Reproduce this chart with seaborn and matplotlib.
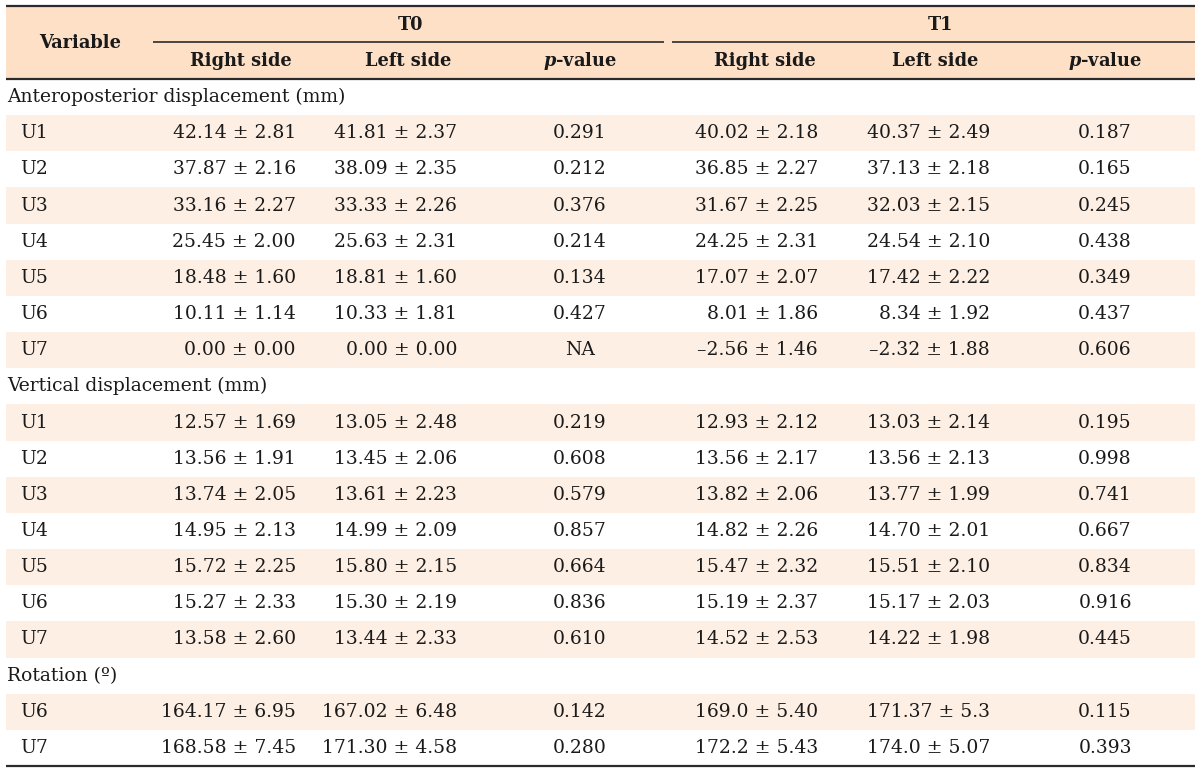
import matplotlib
matplotlib.use('Agg')
import matplotlib.pyplot as plt
import seaborn as sns

# TABLE DATA
sections = ['Anteroposterior displacement (mm)', 'Vertical displacement (mm)', 'Rotation (º)']

ap_vars = ['U1', 'U2', 'U3', 'U4', 'U5', 'U6', 'U7']
ap_t0_right = ['42.14 ± 2.81', '37.87 ± 2.16', '33.16 ± 2.27', '25.45 ± 2.00', '18.48 ± 1.60', '10.11 ± 1.14', '0.00 ± 0.00']
ap_t0_left = ['41.81 ± 2.37', '38.09 ± 2.35', '33.33 ± 2.26', '25.63 ± 2.31', '18.81 ± 1.60', '10.33 ± 1.81', '0.00 ± 0.00']
ap_t0_p = ['0.291', '0.212', '0.376', '0.214', '0.134', '0.427', 'NA']
ap_t1_right = ['40.02 ± 2.18', '36.85 ± 2.27', '31.67 ± 2.25', '24.25 ± 2.31', '17.07 ± 2.07', '8.01 ± 1.86', '–2.56 ± 1.46']
ap_t1_left = ['40.37 ± 2.49', '37.13 ± 2.18', '32.03 ± 2.15', '24.54 ± 2.10', '17.42 ± 2.22', '8.34 ± 1.92', '–2.32 ± 1.88']
ap_t1_p = ['0.187', '0.165', '0.245', '0.438', '0.349', '0.437', '0.606']

vt_vars = ['U1', 'U2', 'U3', 'U4', 'U5', 'U6', 'U7']
vt_t0_right = ['12.57 ± 1.69', '13.56 ± 1.91', '13.74 ± 2.05', '14.95 ± 2.13', '15.72 ± 2.25', '15.27 ± 2.33', '13.58 ± 2.60']
vt_t0_left = ['13.05 ± 2.48', '13.45 ± 2.06', '13.61 ± 2.23', '14.99 ± 2.09', '15.80 ± 2.15', '15.30 ± 2.19', '13.44 ± 2.33']
vt_t0_p = ['0.219', '0.608', '0.579', '0.857', '0.664', '0.836', '0.610']
vt_t1_right = ['12.93 ± 2.12', '13.56 ± 2.17', '13.82 ± 2.06', '14.82 ± 2.26', '15.47 ± 2.32', '15.19 ± 2.37', '14.52 ± 2.53']
vt_t1_left = ['13.03 ± 2.14', '13.56 ± 2.13', '13.77 ± 1.99', '14.70 ± 2.01', '15.51 ± 2.10', '15.17 ± 2.03', '14.22 ± 1.98']
vt_t1_p = ['0.195', '0.998', '0.741', '0.667', '0.834', '0.916', '0.445']

rot_vars = ['U6', 'U7']
rot_t0_right = ['164.17 ± 6.95', '168.58 ± 7.45']
rot_t0_left = ['167.02 ± 6.48', '171.30 ± 4.58']
rot_t0_p = ['0.142', '0.280']
rot_t1_right = ['169.0 ± 5.40', '172.2 ± 5.43']
rot_t1_left = ['171.37 ± 5.3', '174.0 ± 5.07']
rot_t1_p = ['0.115', '0.393']

time_points = ['T0', 'T1']
sub_headers = ['Right side', 'Left side', r'$\mathbfit{p}$-value']

# STYLE
sns.set_theme(style='white')
plt.rcParams['font.family'] = ['DejaVu Serif', 'DejaVu Sans']
plt.rcParams['mathtext.fontset'] = 'dejavuserif'

header_bg = '#fde0c6'
stripe_bg = '#fdefe4'
line_col = '#2b2b2b'
text_col = '#1a1a1a'
fs = 13.5
fs_head = 12.8

# layout in pixel units (figure is 1200 x 772)
left_x, right_x = 6, 1195
top_y, mid_y, head_y = 6, 42, 79
row_h = 36.16
# (x, alignment) for the six value columns
value_cols = [(296, 'right'), (457, 'right'), (580, 'center'),
              (818, 'right'), (990, 'right'), (1105, 'center')]
head_x = [241, 408, 580, 765, 935, 1105]
group_x = [410, 940]
group_span = [(153, 664), (672, right_x)]

fig = plt.figure(figsize=(12, 7.72), dpi=100)
ax = fig.add_axes([0, 0, 1, 1])
ax.set_xlim(0, 1200)
ax.set_ylim(772, 0)
ax.axis('off')

# header
ax.axhspan(top_y, head_y, xmin=left_x / 1200, xmax=right_x / 1200, color=header_bg, lw=0)
ax.hlines(top_y, left_x, right_x, color=line_col, lw=1.6)
ax.hlines(head_y, left_x, right_x, color=line_col, lw=1.6)
for (x0, x1), label, gx in zip(group_span, time_points, group_x):
    ax.hlines(mid_y, x0, x1, color=line_col, lw=1.2)
    ax.text(gx, (top_y + mid_y) / 2 + 1, label, ha='center', va='center',
            fontsize=fs_head, fontweight='bold', color=text_col)
ax.text(80, (top_y + head_y) / 2 + 1, 'Variable', ha='center', va='center',
        fontsize=fs_head, fontweight='bold', color=text_col)
for i, hx in enumerate(head_x):
    ax.text(hx, (mid_y + head_y) / 2 + 1, sub_headers[i % 3], ha='center', va='center',
            fontsize=fs_head, fontweight='bold', color=text_col)

# body
blocks = [
    (ap_vars, [ap_t0_right, ap_t0_left, ap_t0_p, ap_t1_right, ap_t1_left, ap_t1_p]),
    (vt_vars, [vt_t0_right, vt_t0_left, vt_t0_p, vt_t1_right, vt_t1_left, vt_t1_p]),
    (rot_vars, [rot_t0_right, rot_t0_left, rot_t0_p, rot_t1_right, rot_t1_left, rot_t1_p]),
]

row = 0
for title, (names, cols) in zip(sections, blocks):
    yc = head_y + (row + 0.5) * row_h
    ax.text(7, yc, title, ha='left', va='center', fontsize=fs, color=text_col)
    row += 1
    for j, name in enumerate(names):
        y0 = head_y + row * row_h
        yc = y0 + row_h / 2
        if j % 2 == 0:
            ax.axhspan(y0, y0 + row_h, xmin=left_x / 1200, xmax=right_x / 1200,
                       color=stripe_bg, lw=0)
        ax.text(20, yc, name, ha='left', va='center', fontsize=fs, color=text_col)
        for (cx, align), col in zip(value_cols, cols):
            ax.text(cx, yc, col[j], ha=align, va='center', fontsize=fs, color=text_col)
        row += 1

ax.hlines(head_y + row * row_h, left_x, right_x, color=line_col, lw=1.6)

fig.savefig('out.png', dpi=100)
